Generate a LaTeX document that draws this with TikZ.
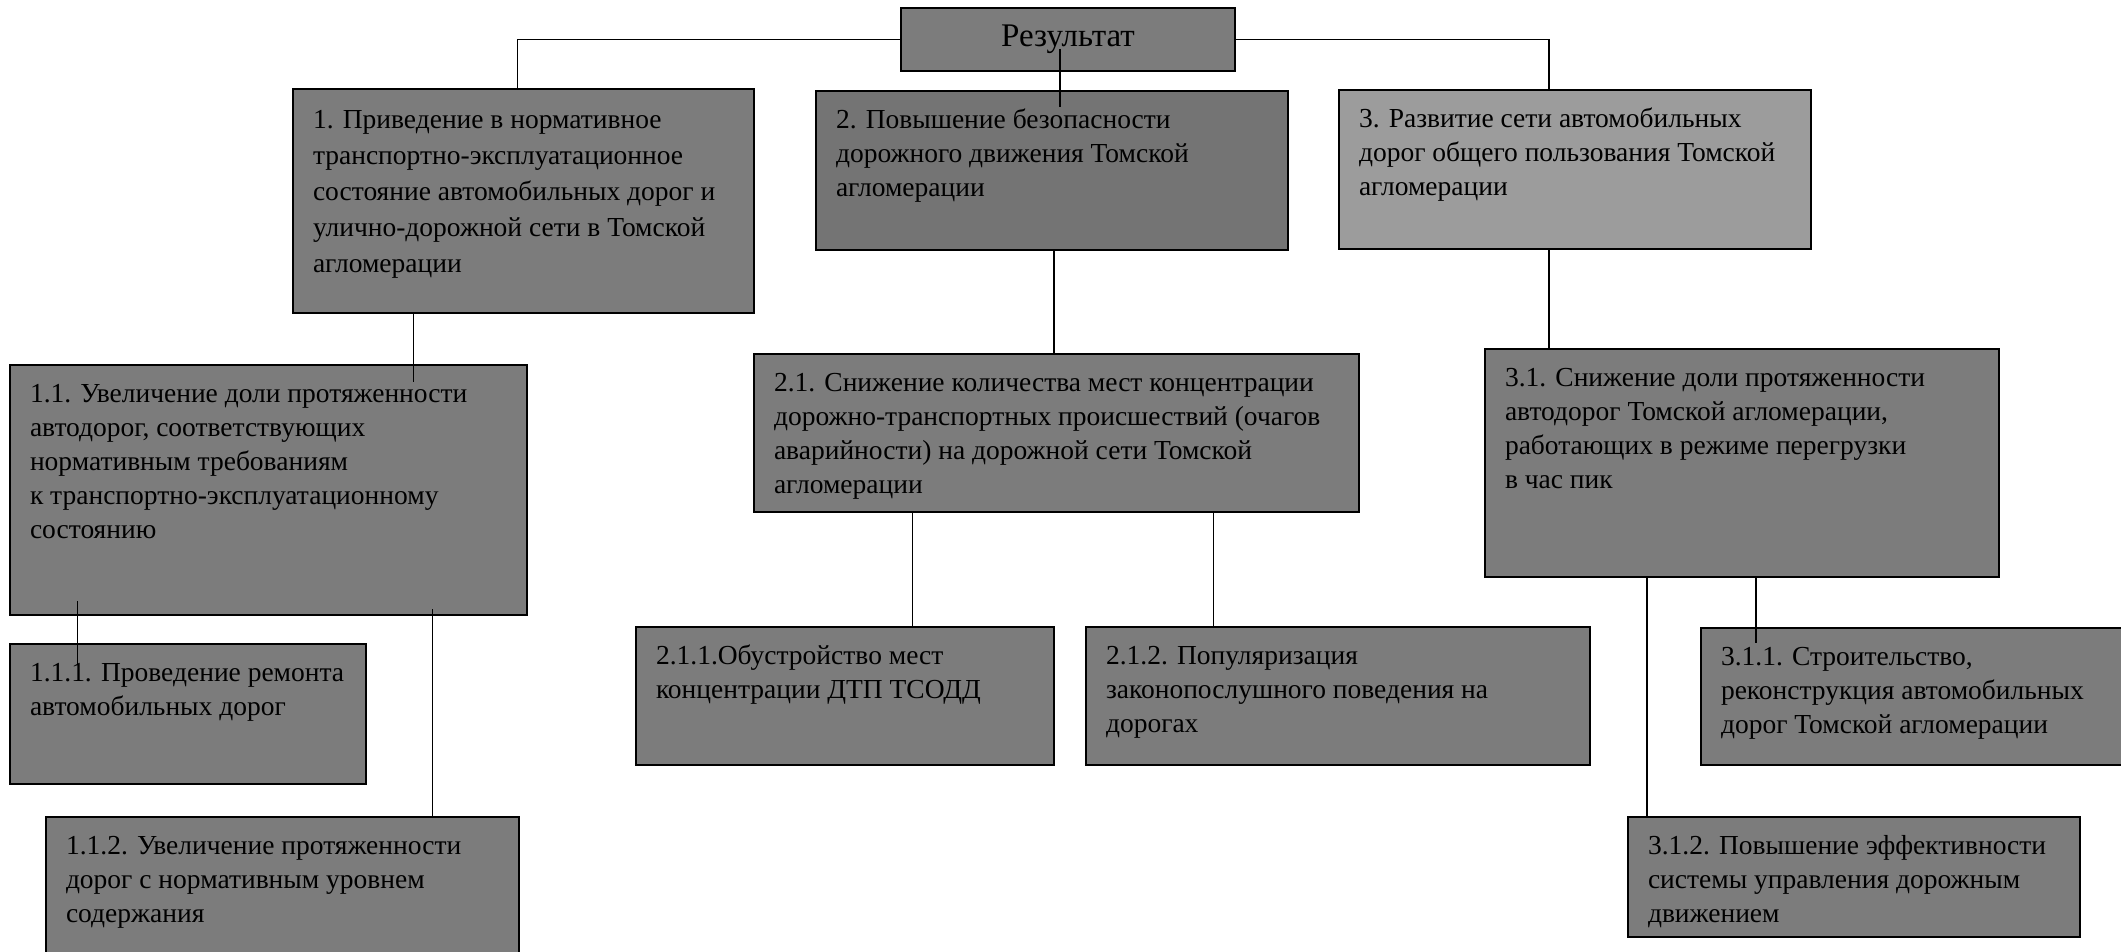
\documentclass[tikz,border=0pt]{standalone}
\usepackage{fontspec}
\setmainfont{Liberation Serif}
\definecolor{boxgray}{RGB}{124,124,124}
\definecolor{boxdark}{RGB}{116,116,116}
\definecolor{boxlight}{RGB}{156,156,156}
\newcommand{\blocktext}[3]{\parbox[c][#1pt][t]{#2pt}{\raggedright\leftskip=20pt\vspace*{14pt}\strut#3}}
\tikzset{
  blk/.style={draw, line width=2pt, fill=boxgray, anchor=north west, inner sep=0pt, font=\fontsize{27.5}{34}\selectfont},
  link/.style={line width=1.3pt}
}
\begin{document}
\begin{tikzpicture}[x=1pt,y=-1pt]
\useasboundingbox (0,0) rectangle (2121,952);
\node[blk, minimum width=334pt, minimum height=63pt, font=\fontsize{33}{38}\selectfont] (res) at (900,7) {Результат};
\node[blk, font=\fontsize{27.5}{36}\selectfont] (b1) at (292,88) {\blocktext{224}{461}{1. Приведение в нормативное\\ транспортно-эксплуатационное\\ состояние автомобильных дорог и\\ улично-дорожной сети в Томской\\ агломерации}};
\node[blk, fill=boxdark] (b2) at (815,90) {\blocktext{159}{472}{2. Повышение безопасности\\ дорожного движения Томской\\ агломерации}};
\node[blk, fill=boxlight] (b3) at (1338,89) {\blocktext{159}{472}{3. Развитие сети автомобильных\\ дорог общего пользования Томской\\ агломерации}};
\node[blk] (b11) at (9,364) {\blocktext{250}{517}{1.1. Увеличение доли протяженности\\ автодорог, соответствующих\\ нормативным требованиям\\ к транспортно-эксплуатационному\\ состоянию}};
\node[blk] (b111) at (9,643) {\blocktext{140}{356}{1.1.1. Проведение ремонта\\ автомобильных дорог}};
\node[blk] (b112) at (45,816) {\blocktext{150}{473}{1.1.2. Увеличение протяженности\\ дорог с нормативным уровнем\\ содержания}};
\node[blk] (b21) at (753,353) {\blocktext{158}{605}{2.1. Снижение количества мест концентрации\\ дорожно-транспортных происшествий (очагов\\ аварийности) на дорожной сети Томской\\ агломерации}};
\node[blk] (b211) at (635,626) {\blocktext{138}{418}{2.1.1.Обустройство мест\\ концентрации ДТП ТСОДД}};
\node[blk] (b212) at (1085,626) {\blocktext{138}{504}{2.1.2. Популяризация\\ законопослушного поведения на\\ дорогах}};
\node[blk] (b31) at (1484,348) {\blocktext{228}{514}{3.1. Снижение доли протяженности\\ автодорог Томской агломерации,\\ работающих в режиме перегрузки\\ в час пик}};
\node[blk] (b311) at (1700,627) {\blocktext{137}{440}{3.1.1. Строительство,\\ реконструкция автомобильных\\ дорог Томской агломерации}};
\node[blk] (b312) at (1627,816) {\blocktext{120}{452}{3.1.2. Повышение эффективности\\ системы управления дорожным\\ движением}};
\draw[link] (res.west) -| ([xshift=-6pt]b1.north);
\draw[link] (res.east) -| ([xshift=-26pt]b3.north);
\draw[link, shorten <=-23pt, shorten >=-17pt] ([xshift=-8pt]res.south) -- ([xshift=-8pt]res.south |- b2.north);
\draw[link] ([xshift=2pt]b2.south) -- ([xshift=2pt]b2.south |- b21.north);
\draw[link] ([xshift=-26pt]b3.south) -- ([xshift=-26pt]b3.south |- b31.north);
\draw[link, shorten >=-18pt] ([xshift=-110pt]b1.south) -- ([xshift=-110pt]b1.south |- b11.north);
\draw[link, shorten <=-15pt, shorten >=-21pt] ([xshift=-191pt]b11.south) -- ([xshift=-191pt]b11.south |- b111.north);
\draw[link, shorten <=-7pt] ([xshift=164pt]b11.south) -- ([xshift=164pt]b11.south |- b112.north);
\draw[link] ([xshift=-144pt]b21.south) -- ([xshift=-144pt]b21.south |- b211.north);
\draw[link] ([xshift=157pt]b21.south) -- ([xshift=157pt]b21.south |- b212.north);
\draw[link] ([xshift=-95pt]b31.south) -- ([xshift=-95pt]b31.south |- b312.north);
\draw[link, shorten >=-16pt] ([xshift=14pt]b31.south) -- ([xshift=14pt]b31.south |- b311.north);
\end{tikzpicture}
\end{document}
